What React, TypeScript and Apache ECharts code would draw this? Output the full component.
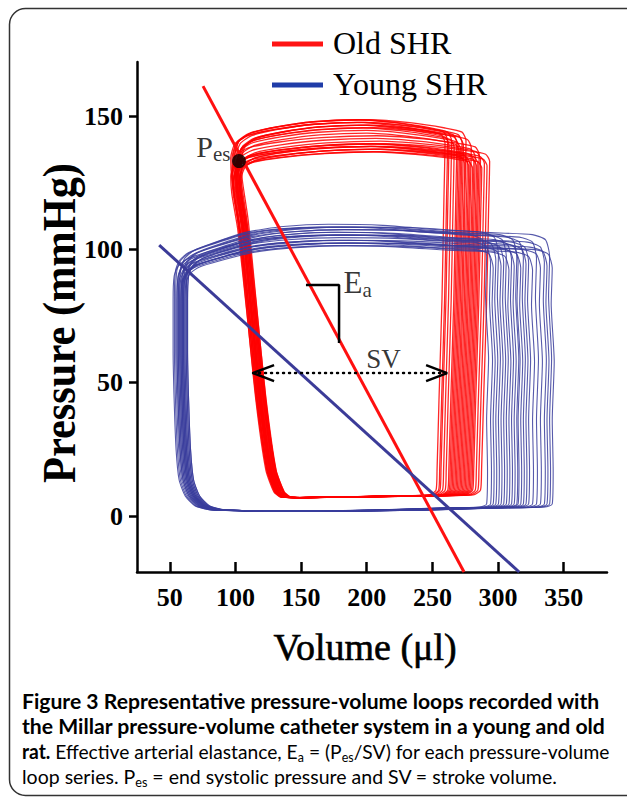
import React, { useEffect, useRef } from 'react';
import * as echarts from 'echarts';

// ---------- axes ----------
const X_TICKS = [50, 100, 150, 200, 250, 300, 350];
const Y_TICKS = [0, 50, 100, 150];
const X_MIN = 25;
const X_MAX = 383;
const Y_MIN = -21;
const Y_MAX = 170.25;

// ---------- loop contours (volume µl, pressure mmHg) ----------
const OLD_BASE: [number, number][] = [
  [137.7, 7.1], [149.2, 6.9], [179.6, 7.1], [225.3, 7.5], [263.4, 7.9], [268.7, 9.7],
  [269.5, 17.2], [271.0, 43.5], [273.3, 81.0], [274.8, 118.5], [275.6, 139.1], [272.6, 142.1],
  [259.6, 143.6], [233.0, 145.5], [202.5, 146.6], [164.4, 145.9], [133.9, 144.0], [112.6, 141.7],
  [103.5, 138.7], [100.4, 133.5], [101.2, 126.0], [105.7, 111.0], [111.8, 81.0], [119.5, 43.5],
  [127.1, 17.2], [133.2, 9.0], [137.7, 7.1],
];
const YOUNG_BASE: [number, number][] = [
  [86.7, 2.25], [118.7, 1.9], [172.0, 1.9], [225.3, 2.2], [278.7, 3.0], [312.9, 3.4],
  [318.3, 4.5], [319.0, 17.2], [318.3, 36.0], [319.8, 58.5], [317.5, 81.0], [318.3, 95.2],
  [315.2, 100.9], [305.3, 102.7], [271.0, 103.5], [225.3, 105.0], [179.6, 105.4], [141.5, 104.6],
  [111.1, 102.7], [84.4, 99.0], [69.2, 96.4], [62.3, 93.7], [59.3, 90.0], [58.5, 81.0],
  [58.5, 62.2], [59.3, 43.5], [60.8, 24.7], [63.1, 13.5], [67.7, 7.5], [75.3, 3.75], [86.7, 2.25],
];
// per-loop shifts [left-edge volume, right-edge volume, peak pressure]
const OLD_OFFSETS: [number, number, number][] = [
  [0, -16, 1], [3, -13, 0], [-2, -11, 2], [1, -9, -1], [-3, -7, 1], [4, -6, 0], [0, -4, -2], [-4, -3, 1],
  [2, -2, 0], [3, -1, -8], [-1, 0, 2], [0, 1, -7], [4, 2, -9], [-3, 3, -8], [1, 4, -1], [-2, 5, -10],
  [-1, 6, -7], [3, 8, -9], [-4, 9, -8], [2, 11, -6], [0, 12, -10], [3, 14, -8], [-2, 16, -9], [1, 18, -7],
  [-1, -14, 2], [2, -5, -3], [0, 7, -5], [-3, 10, -4],
];
const YOUNG_OFFSETS: [number, number, number][] = [
  [-5, -27, 3], [-3, -24, 0], [1, -22, -3], [4, -20, 1], [-1, -18, 4], [2, -16, -2], [5, -14, 0], [-4, -12, 3],
  [0, -10, -4], [3, -8, 1], [-2, -6, -2], [1, -4, 3], [-6, -3, 0], [2, -1, -3], [4, 1, 2], [-3, 3, -1],
  [0, 5, 0], [3, 8, -4], [-2, 11, 2], [1, 14, -3], [5, 17, 0], [-1, 19, -2], [2, 21, 3], [0, 23, -3],
];

// ---------- annotations (data coordinates) ----------
const OLD_EA_LINE: [number, number][] = [[75.3, 161.2], [274.1, -21]];
const YOUNG_EA_LINE: [number, number][] = [[41.9, 101.6], [316.1, -21]];
const PES_POINT: [number, number] = [102.7, 133.1];
const PES_LABEL_AT: [number, number] = [96.6, 138.4];
const EA_BRACKET: [number, number][] = [[153.7, 86.6], [178.9, 86.6], [178.9, 64.9]];
const EA_LABEL_AT: [number, number] = [181.9, 87.6];
const SV_ARROW: [number, number][] = [[113.4, 53.6], [261.2, 53.6]];
const SV_LEFT_HEAD: [number, number][] = [[129.4, 56.6], [113.4, 53.6], [129.4, 50.6]];
const SV_RIGHT_HEAD: [number, number][] = [[245.2, 56.6], [261.2, 53.6], [245.2, 50.6]];
const SV_LABEL_AT: [number, number] = [212.8, 58.9];

const LEGEND = [
  { name: 'Old SHR', color: '#ff1414', y: 44 },
  { name: 'Young SHR', color: '#1f3ca8', y: 85 },
];

// ---------- caption ----------
const CAPTION_LINES: [string, string][][] = [
  [['b', 'Figure 3'], ['b', ' Representative pressure-volume loops recorded with']],
  [['b', 'the Millar pressure-volume catheter system in a young and old']],
  [['b', 'rat.'], ['r', ' Effective arterial elastance, E'], ['s', 'a'], ['r', ' = (P'], ['s', 'es'], ['r', '/SV) for each pressure-volume']],
  [['r', 'loop series. P'], ['s', 'es'], ['r', ' = end systolic pressure and SV = stroke volume.']],
];
const CAPTION_END_X = [600, 607, 610, 558];
const CAPTION_Y = [701, 726, 751, 776];

const SERIF = 'Liberation Serif';
const SANS = 'Lato';
const RED = '#ff0000';
const BLUE = '#3a3d9c';

const CAP_STYLES: Record<string, any> = {
  b: { fontFamily: SANS, fontWeight: 'bold', fontSize: 20, color: '#231f20' },
  r: { fontFamily: SANS, fontWeight: 'normal', fontSize: 20, color: '#231f20' },
  s: { fontFamily: SANS, fontWeight: 'normal', fontSize: 13, color: '#231f20', padding: [11, 0, 0, 0] },
};

let measureCtx: CanvasRenderingContext2D | null = null;
function textWidth(text: string, weight: string, size: number, family: string): number {
  if (!measureCtx) measureCtx = document.createElement('canvas').getContext('2d');
  if (!measureCtx) return 0;
  measureCtx.font = `${weight} ${size}px ${family}`;
  return measureCtx.measureText(text).width;
}

function buildLoop(base: [number, number][], off: [number, number, number], xL: number, xR: number, yTop: number) {
  const [dl, dr, dt] = off;
  return base.map(([x, y]) => {
    let t = Math.min(1, Math.max(0, (x - xL) / (xR - xL)));
    t = t * t * (3 - 2 * t);
    let s = Math.min(1, Math.max(0, y / yTop));
    s = s * s * s;
    return [x + dl * (1 - t) + dr * t, y + dt * s];
  });
}

function loopSeries(base: [number, number][], offsets: [number, number, number][], xL: number, xR: number, yTop: number, color: string, z: number, width: number) {
  return offsets.map((o) => ({
    type: 'line',
    data: buildLoop(base, o, xL, xR, yTop),
    showSymbol: false,
    symbol: 'none',
    smooth: 0.2,
    silent: true,
    z,
    lineStyle: { color, width, opacity: 0.85 },
  }));
}

function plainLine(data: [number, number][], color: string, width: number, z: number, extra: any = {}) {
  return {
    type: 'line',
    data,
    showSymbol: false,
    symbol: 'none',
    silent: true,
    z,
    lineStyle: { color, width, ...extra },
  };
}

function labelPoint(at: [number, number], position: string, formatter: string, rich: any) {
  return {
    type: 'scatter',
    data: [at],
    symbolSize: 1,
    silent: true,
    z: 8,
    itemStyle: { color: 'rgba(0,0,0,0)' },
    label: { show: true, position, distance: 0, formatter, rich, color: '#000' },
  };
}

function buildOption() {
  const captionGraphics = CAPTION_LINES.map((segs, i) => {
    let w = 0;
    segs.forEach(([k, t]) => {
      const st = CAP_STYLES[k];
      w += textWidth(t, st.fontWeight, st.fontSize, st.fontFamily);
    });
    const target = CAPTION_END_X[i] - 22;
    const scaleX = w > 0 ? target / w : 1;
    return {
      type: 'text',
      x: 22,
      y: CAPTION_Y[i],
      scaleX,
      silent: true,
      style: {
        text: segs.map(([k, t]) => `{${k}|${t}}`).join(''),
        rich: CAP_STYLES,
        align: 'left',
        verticalAlign: 'middle',
      },
    };
  });

  const pTitleW = textWidth('Pressure (mmHg)', 'bold', 46, SERIF);
  const pScale = pTitleW > 0 ? 320 / pTitleW : 1;

  const graphic: any[] = [
    {
      type: 'rect',
      silent: true,
      z: -10,
      shape: { x: 9.5, y: 8.5, width: 700, height: 787, r: 16 },
      style: { fill: 'none', stroke: '#333', lineWidth: 1.5 },
    },
    ...LEGEND.flatMap((l) => [
      { type: 'line', silent: true, shape: { x1: 272, y1: l.y, x2: 323, y2: l.y }, style: { stroke: l.color, lineWidth: 5 } },
      {
        type: 'text', silent: true, x: 333, y: l.y - 1,
        style: { text: l.name, fontFamily: SERIF, fontSize: 32, fill: '#000', align: 'left', verticalAlign: 'middle' },
      },
    ]),
    {
      type: 'text', silent: true, x: 60, y: 323, rotation: Math.PI / 2, scaleX: pScale,
      style: { text: 'Pressure (mmHg)', fontFamily: SERIF, fontWeight: 'bold', fontSize: 46, fill: '#000', align: 'center', verticalAlign: 'middle' },
    },
    {
      type: 'text', silent: true, x: 365, y: 647,
      style: { text: 'Volume (μl)', fontFamily: SERIF, fontSize: 38, fill: '#000', align: 'center', verticalAlign: 'middle', stroke: '#000', lineWidth: 0.6 },
    },
    ...captionGraphics,
  ];

  const axisCommon = {
    type: 'value',
    splitLine: { show: false },
  };

  return {
    animation: false,
    backgroundColor: '#fff',
    grid: { left: 137, right: 20, top: 62, bottom: 227, containLabel: false, outerBoundsMode: 'none' },
    xAxis: {
      ...axisCommon,
      min: X_MIN,
      max: X_MAX,
      axisLine: { show: true, onZero: false, lineStyle: { color: '#000', width: 2.5 } },
      axisTick: { show: true, inside: true, length: 10, customValues: X_TICKS, lineStyle: { color: '#000', width: 2.5 } },
      axisLabel: { customValues: X_TICKS, fontFamily: SERIF, fontWeight: 'bold', fontSize: 26, color: '#000', margin: 12 },
    },
    yAxis: {
      ...axisCommon,
      min: Y_MIN,
      max: Y_MAX,
      axisLine: { show: true, onZero: false, lineStyle: { color: '#000', width: 2.5 } },
      axisTick: { show: true, inside: false, length: 8, customValues: Y_TICKS, lineStyle: { color: '#000', width: 2.5 } },
      axisLabel: { customValues: Y_TICKS, fontFamily: SERIF, fontWeight: 'bold', fontSize: 26, color: '#000', margin: 14 },
    },
    graphic,
    series: [
      ...loopSeries(OLD_BASE, OLD_OFFSETS, 100, 275, 146, RED, 2, 1.3),
      ...loopSeries(YOUNG_BASE, YOUNG_OFFSETS, 58, 320, 105, BLUE, 3, 1.1),
      plainLine(OLD_EA_LINE, '#ff1010', 3, 5),
      plainLine(YOUNG_EA_LINE, '#3b3b98', 3, 5),
      plainLine(EA_BRACKET, '#000', 2.5, 6),
      plainLine(SV_ARROW, '#000', 2.5, 6, { type: [1, 5], cap: 'round' }),
      plainLine(SV_LEFT_HEAD, '#000', 2.5, 6),
      plainLine(SV_RIGHT_HEAD, '#000', 2.5, 6),
      {
        type: 'scatter',
        data: [PES_POINT],
        symbolSize: 14,
        silent: true,
        z: 7,
        itemStyle: { color: '#000' },
      },
      labelPoint(PES_LABEL_AT, 'left', '{p|P}{s|es}', {
        p: { fontFamily: SERIF, fontSize: 30, color: '#000' },
        s: { fontFamily: SERIF, fontSize: 21, color: '#000', padding: [15, 0, 0, 0] },
      }),
      labelPoint(EA_LABEL_AT, 'right', '{p|E}{s|a}', {
        p: { fontFamily: SERIF, fontSize: 31, color: '#000' },
        s: { fontFamily: SERIF, fontSize: 21, color: '#000', padding: [15, 0, 0, 0] },
      }),
      labelPoint(SV_LABEL_AT, 'inside', '{p|SV}', {
        p: { fontFamily: SERIF, fontSize: 27, color: '#000' },
      }),
    ],
  };
}

export default function App() {
  const ref = useRef<HTMLDivElement>(null);
  useEffect(() => {
    if (!ref.current) return;
    const chart = echarts.init(ref.current, null, { renderer: 'svg' });
    chart.setOption(buildOption() as any);
    return () => chart.dispose();
  }, []);
  return (
    <div
      ref={ref}
      style={{ position: 'fixed', left: 0, top: 0, width: 627, height: 799, background: '#fff' }}
    />
  );
}
